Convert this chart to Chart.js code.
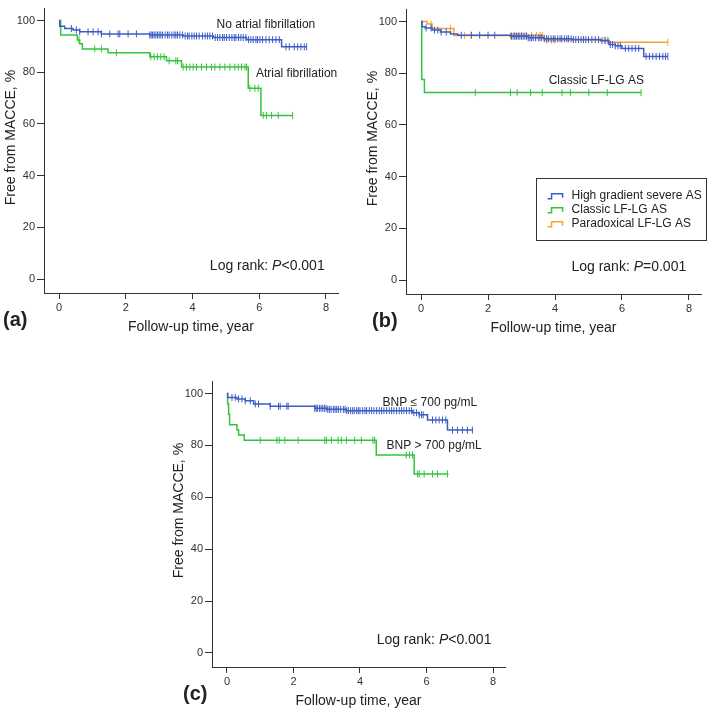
<!DOCTYPE html>
<html lang="en">
<head>
<meta charset="UTF-8">
<title>Free from MACCE</title>
<script src="https://cdn.jsdelivr.net/npm/chart.js"></script>
<style>
    html, body { margin: 0; padding: 0; background: #fff; overflow: hidden; }
    canvas { position: absolute; }
</style>
</head>
<body>
<canvas id="chartA"></canvas>
<canvas id="chartB"></canvas>
<canvas id="chartC"></canvas>

<script>
// ---- data (time in years, survival in %) ----
var xTicks = [0, 2, 4, 6, 8];
var yTicks = [0, 20, 40, 60, 80, 100];

// (a) atrial fibrillation
var noAfTime = [0, 0.02, 0.17, 0.42, 0.62, 1.27, 2.72, 3.72, 4.62, 5.62, 6.67, 7.42];
var noAfSurv = [100, 97.8, 96.9, 96.3, 95.6, 94.8, 94.4, 94.0, 93.4, 92.6, 89.8, 89.8];
var noAfCens = [0.37, 0.52, 0.62, 0.87, 1.02, 1.17, 1.27, 1.52, 1.77, 1.82, 2.07, 2.32, 2.72, 2.76, 2.8, 2.85, 2.9, 2.95, 3.0, 3.05, 3.1, 3.18, 3.25, 3.3, 3.38, 3.45, 3.5, 3.55, 3.62, 3.7, 3.78, 3.85, 3.9, 3.98, 4.05, 4.12, 4.2, 4.3, 4.38, 4.45, 4.52, 4.6, 4.68, 4.75, 4.82, 4.9, 4.95, 5.02, 5.1, 5.18, 5.25, 5.3, 5.38, 5.45, 5.52, 5.6, 5.68, 5.75, 5.82, 5.9, 5.95, 6.02, 6.1, 6.2, 6.3, 6.4, 6.5, 6.6, 6.8, 6.9, 7.05, 7.15, 7.25, 7.35, 7.42];
var afTime = [0, 0.05, 0.55, 0.62, 0.7, 1.47, 2.72, 3.22, 3.67, 5.67, 6.05, 7.0];
var afSurv = [100, 94.4, 92.5, 91.0, 89.0, 87.5, 86.0, 84.4, 82.0, 73.8, 63.3, 63.3];
var afCens = [0.6, 1.07, 1.27, 1.72, 2.75, 2.85, 2.95, 3.05, 3.15, 3.3, 3.5, 3.55, 3.72, 3.82, 3.92, 4.02, 4.12, 4.27, 4.42, 4.57, 4.67, 4.82, 4.97, 5.12, 5.27, 5.37, 5.47, 5.57, 5.62, 5.72, 5.87, 5.97, 6.12, 6.22, 6.37, 6.57, 7.0];

// (b) AS subtype
var hgTime = [0, 0.03, 0.12, 0.33, 0.58, 0.88, 1.1, 2.67, 3.2, 3.67, 4.5, 5.36, 5.61, 5.8, 6.0, 6.65, 7.37];
var hgSurv = [100, 98.0, 97.5, 96.7, 95.9, 95.2, 94.7, 94.3, 93.7, 93.3, 93.0, 92.6, 91.1, 90.6, 89.6, 86.5, 86.5];
var hgCens = [0.15, 0.3, 0.4, 0.5, 0.6, 0.75, 1.2, 1.5, 1.75, 2.0, 2.2, 2.7, 2.75, 2.8, 2.85, 2.9, 2.95, 3.0, 3.05, 3.1, 3.15, 3.2, 3.25, 3.3, 3.35, 3.42, 3.5, 3.55, 3.6, 3.68, 3.75, 3.8, 3.88, 3.95, 4.0, 4.08, 4.15, 4.2, 4.28, 4.35, 4.4, 4.48, 4.55, 4.62, 4.7, 4.78, 4.85, 4.92, 5.0, 5.1, 5.2, 5.3, 5.4, 5.5, 5.58, 5.65, 5.72, 5.8, 5.88, 5.95, 6.1, 6.2, 6.3, 6.4, 6.5, 6.72, 6.82, 6.92, 7.02, 7.12, 7.22, 7.3, 7.37];
var clTime = [0, 0.02, 0.1, 6.57];
var clSurv = [100, 77.6, 72.5, 72.5];
var clCens = [1.62, 2.67, 2.87, 3.27, 3.62, 4.21, 4.46, 5.01, 5.56, 6.57];
var pdTime = [0, 0.18, 0.33, 0.98, 3.67, 5.61, 7.37];
var pdSurv = [100, 99.0, 97.3, 94.6, 92.8, 92.0, 92.0];
var pdCens = [0.3, 0.88, 1.3, 1.5, 2.67, 2.8, 2.9, 3.0, 3.15, 3.3, 3.45, 3.55, 3.62, 3.75, 3.9, 4.0, 5.47, 7.37];

// (c) BNP
var lowTime = [0, 0.02, 0.3, 0.55, 0.8, 1.3, 2.64, 3.0, 3.59, 5.58, 5.78, 6.03, 6.63, 7.4];
var lowSurv = [100, 98.5, 97.9, 97.2, 96.0, 95.1, 94.3, 93.9, 93.4, 92.6, 91.8, 89.8, 85.9, 85.9];
var lowCens = [0.15, 0.25, 0.35, 0.45, 0.55, 0.7, 0.85, 0.95, 1.3, 1.55, 1.6, 1.8, 1.84, 2.64, 2.68, 2.72, 2.78, 2.83, 2.88, 2.93, 2.98, 3.03, 3.08, 3.13, 3.2, 3.25, 3.3, 3.35, 3.42, 3.5, 3.55, 3.6, 3.65, 3.72, 3.78, 3.83, 3.9, 3.95, 4.0, 4.08, 4.15, 4.2, 4.28, 4.35, 4.42, 4.5, 4.58, 4.65, 4.72, 4.8, 4.88, 4.95, 5.02, 5.1, 5.18, 5.25, 5.32, 5.4, 5.48, 5.55, 5.62, 5.7, 5.78, 5.85, 5.9, 6.18, 6.28, 6.38, 6.48, 6.58, 6.78, 6.93, 7.08, 7.23, 7.38];
var highTime = [0, 0.02, 0.05, 0.08, 0.3, 0.35, 0.52, 4.49, 5.63, 6.66];
var highSurv = [100, 96.0, 92.0, 88.0, 85.9, 84.0, 82.0, 76.3, 69.0, 69.0];
var highCens = [1.0, 1.5, 1.57, 1.74, 2.14, 2.94, 2.99, 3.14, 3.34, 3.44, 3.59, 3.84, 4.04, 4.39, 4.44, 5.39, 5.49, 5.58, 5.73, 5.78, 5.93, 6.18, 6.33, 6.63];

var BLUE = '#3d5bc6', GREEN = '#33c43f', ORANGE = '#f8a227';
var FONT = '"Liberation Sans", Arial, sans-serif';
var LOGRANK_LT = [{text: 'Log rank: '}, {text: 'P', italic: true}, {text: '<0.001'}];
var LOGRANK_EQ = [{text: 'Log rank: '}, {text: 'P', italic: true}, {text: '=0.001'}];

Chart.defaults.font.family = FONT;
Chart.defaults.color = '#333';

// survival value at a censoring time (step lookup on the curve)
function survAt(time, surv, t) {
    var v = surv[0];
    for (var i = 0; i < time.length; i++) {
        if (time[i] <= t) v = surv[i];
    }
    return v;
}

function kmSets(time, surv, cens, color, label) {
    return [
        {
            label: label,
            data: time.map(function (t, i) { return {x: t, y: surv[i]}; }),
            stepped: 'before',
            borderColor: color,
            borderWidth: 1.5,
            pointRadius: 0,
            fill: false
        },
        {
            data: cens.map(function (t) { return {x: t, y: survAt(time, surv, t)}; }),
            showLine: false,
            pointStyle: 'line',
            rotation: 90,
            pointRadius: 3.5,
            borderColor: color,
            borderWidth: 1,
            backgroundColor: color
        }
    ];
}

// annotations, panel letter, y title and (optional) legend box
var panelText = {
    id: 'panelText',
    afterDraw: function (chart, args, o) {
        var ctx = chart.ctx, xs = chart.scales.x, ys = chart.scales.y, area = chart.chartArea;
        ctx.save();
        ctx.fillStyle = '#222';
        ctx.textBaseline = 'middle';

        ctx.save();
        ctx.translate(11, area.top + 129);
        ctx.rotate(-Math.PI / 2);
        ctx.textAlign = 'center';
        ctx.font = '14px ' + FONT;
        ctx.fillText('Free from MACCE, %', 0, 0);
        ctx.restore();

        ctx.textAlign = 'left';
        ctx.font = 'bold 20px ' + FONT;
        ctx.fillText(o.letter, o.letterX, area.bottom + 27);

        ctx.font = '12px ' + FONT;
        o.labels.forEach(function (l) {
            ctx.fillText(l.text, xs.getPixelForValue(l.x), ys.getPixelForValue(l.y));
        });

        var x = xs.getPixelForValue(o.logRank.x), y = ys.getPixelForValue(o.logRank.y);
        o.logRank.parts.forEach(function (p) {
            ctx.font = (p.italic ? 'italic ' : '') + '14px ' + FONT;
            ctx.fillText(p.text, x, y);
            x += ctx.measureText(p.text).width;
        });

        if (o.legend) {
            var lx = xs.getPixelForValue(o.legend.x), ly = ys.getPixelForValue(o.legend.y);
            ctx.strokeStyle = '#333';
            ctx.lineWidth = 1;
            ctx.strokeRect(Math.round(lx) + 0.5, Math.round(ly) + 0.5, 170, 62);
            ctx.font = '12px ' + FONT;
            var items = chart.data.datasets.filter(function (d) { return d.label; });
            items.forEach(function (d, i) {
                var yy = ly + 18 + 14 * i;
                ctx.strokeStyle = d.borderColor;
                ctx.lineWidth = 1.5;
                ctx.beginPath();
                ctx.moveTo(lx + 12, yy + 3);
                ctx.lineTo(lx + 16, yy + 3);
                ctx.lineTo(lx + 16, yy - 2);
                ctx.lineTo(lx + 27, yy - 2);
                ctx.lineTo(lx + 27, yy + 2);
                ctx.stroke();
                ctx.fillStyle = '#222';
                ctx.fillText(d.label, lx + 36, yy);
            });
        }
        ctx.restore();
    }
};

function makePanel(id, left, top, areaW, areaH, datasets, text) {
    var canvas = document.getElementById(id);
    var w = 44 + areaW + 8, h = 2 + areaH + 52;
    canvas.width = w;
    canvas.height = h;
    canvas.style.left = left + 'px';
    canvas.style.top = top + 'px';
    canvas.style.width = w + 'px';
    canvas.style.height = h + 'px';

    return new Chart(canvas.getContext('2d'), {
        type: 'line',
        data: {datasets: datasets},
        options: {
            responsive: false,
            animation: false,
            events: [],
            layout: {padding: {left: 0, right: 8, top: 2, bottom: 0}},
            plugins: {legend: {display: false}, tooltip: {enabled: false}, panelText: text},
            scales: {
                x: {
                    type: 'linear',
                    min: -0.45,
                    max: 8.36,
                    afterBuildTicks: function (s) { s.ticks = xTicks.map(function (v) { return {value: v}; }); },
                    afterFit: function (s) { s.height = 52; },
                    grid: {drawOnChartArea: false, tickLength: 6, color: '#333'},
                    border: {color: '#333'},
                    ticks: {font: {size: 11}, padding: 2, maxRotation: 0},
                    title: {display: true, text: 'Follow-up time, year', font: {size: 14}, color: '#222', padding: {top: 0, bottom: 9}}
                },
                y: {
                    min: -5.4,
                    max: 104.6,
                    afterBuildTicks: function (s) { s.ticks = yTicks.map(function (v) { return {value: v}; }); },
                    afterFit: function (s) { s.width = 44; },
                    grid: {drawOnChartArea: false, tickLength: 7, color: '#333'},
                    border: {color: '#333'},
                    ticks: {font: {size: 11}, padding: 2}
                }
            }
        },
        plugins: [panelText]
    });
}

makePanel('chartA', 0, 0, 294, 291,
    kmSets(noAfTime, noAfSurv, noAfCens, BLUE).concat(kmSets(afTime, afSurv, afCens, GREEN)),
    {
        letter: '(a)', letterX: 3,
        labels: [
            {text: 'No atrial fibrillation', x: 4.72, y: 98.3},
            {text: 'Atrial fibrillation', x: 5.9, y: 79.5}
        ],
        logRank: {x: 4.52, y: 4.9, parts: LOGRANK_LT}
    });

makePanel('chartB', 362, 1, 295, 291,
    kmSets(hgTime, hgSurv, hgCens, BLUE, 'High gradient severe AS')
        .concat(kmSets(clTime, clSurv, clCens, GREEN, 'Classic LF-LG AS'))
        .concat(kmSets(pdTime, pdSurv, pdCens, ORANGE, 'Paradoxical LF-LG AS')),
    {
        letter: '(b)', letterX: 10,
        labels: [{text: 'Classic LF-LG AS', x: 3.81, y: 77.2}],
        logRank: {x: 4.49, y: 5.0, parts: LOGRANK_EQ},
        legend: {x: 3.42, y: 39.6}
    });

makePanel('chartC', 168, 373, 293, 292,
    kmSets(lowTime, lowSurv, lowCens, BLUE).concat(kmSets(highTime, highSurv, highCens, GREEN)),
    {
        letter: '(c)', letterX: 15,
        labels: [
            {text: 'BNP \u2264 700 pg/mL', x: 4.68, y: 96.6},
            {text: 'BNP > 700 pg/mL', x: 4.8, y: 79.9}
        ],
        logRank: {x: 4.5, y: 4.8, parts: LOGRANK_LT}
    });
</script>
</body>
</html>
